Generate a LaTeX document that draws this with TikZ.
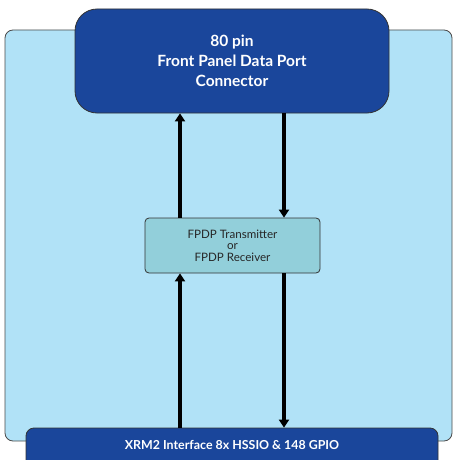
\documentclass[tikz,border=0pt]{standalone}
\usepackage{fontspec}
\setmainfont{Lato}
\usetikzlibrary{arrows.meta}
\definecolor{bgblue}{HTML}{B1E2F7}
\definecolor{darkblue}{HTML}{1A469B}
\definecolor{tealbox}{HTML}{92CFDA}
\begin{document}
\begin{tikzpicture}[x=1pt,y=-1pt,
  bigbox/.style={draw=black!80,line width=0.8pt,fill=darkblue,text=white,font=\bfseries\fontsize{15.5}{20}\selectfont,align=center},
  midbox/.style={draw=black!80,line width=0.8pt,fill=tealbox,text=black!85,font=\fontsize{11.6}{11.5}\selectfont,align=center,rounded corners=4pt},
  flow/.style={line width=3.4pt,-{Triangle[length=8pt,width=10pt]}}]
\useasboundingbox (0,0) rectangle (453,460);
\clip (0,0) rectangle (453,460);
\fill[white] (0,0) rectangle (453,460);
\draw[draw=black!70,line width=0.8pt,fill=bgblue,rounded corners=8pt] (5,30) rectangle (452,441);
\node[bigbox,rounded corners=22pt,minimum width=314pt,minimum height=104pt] (top) at (232,61) {80 pin\\Front Panel Data Port\\Connector};
\node[midbox,minimum width=175pt,minimum height=55pt] (mid) at (232.5,245.5) {FPDP Transmitter\\or\\FPDP Receiver};
\node[bigbox,rounded corners=8pt,minimum width=412pt,minimum height=40pt] (bot) at (232,448) {};
\node[text=white,font=\bfseries\fontsize{12.4}{14}\selectfont] (bottext) at (232,445) {XRM2 Interface 8x HSSIO \& 148 GPIO};
\draw[flow] (bot.north -| 180,0) -- (mid.south -| 180,0);
\draw[flow] (mid.north -| 180,0) -- (top.south -| 180,0);
\draw[flow] (top.south -| 284,0) -- (mid.north -| 284,0);
\draw[flow] (mid.south -| 284,0) -- (bot.north -| 284,0);
\end{tikzpicture}
\end{document}
